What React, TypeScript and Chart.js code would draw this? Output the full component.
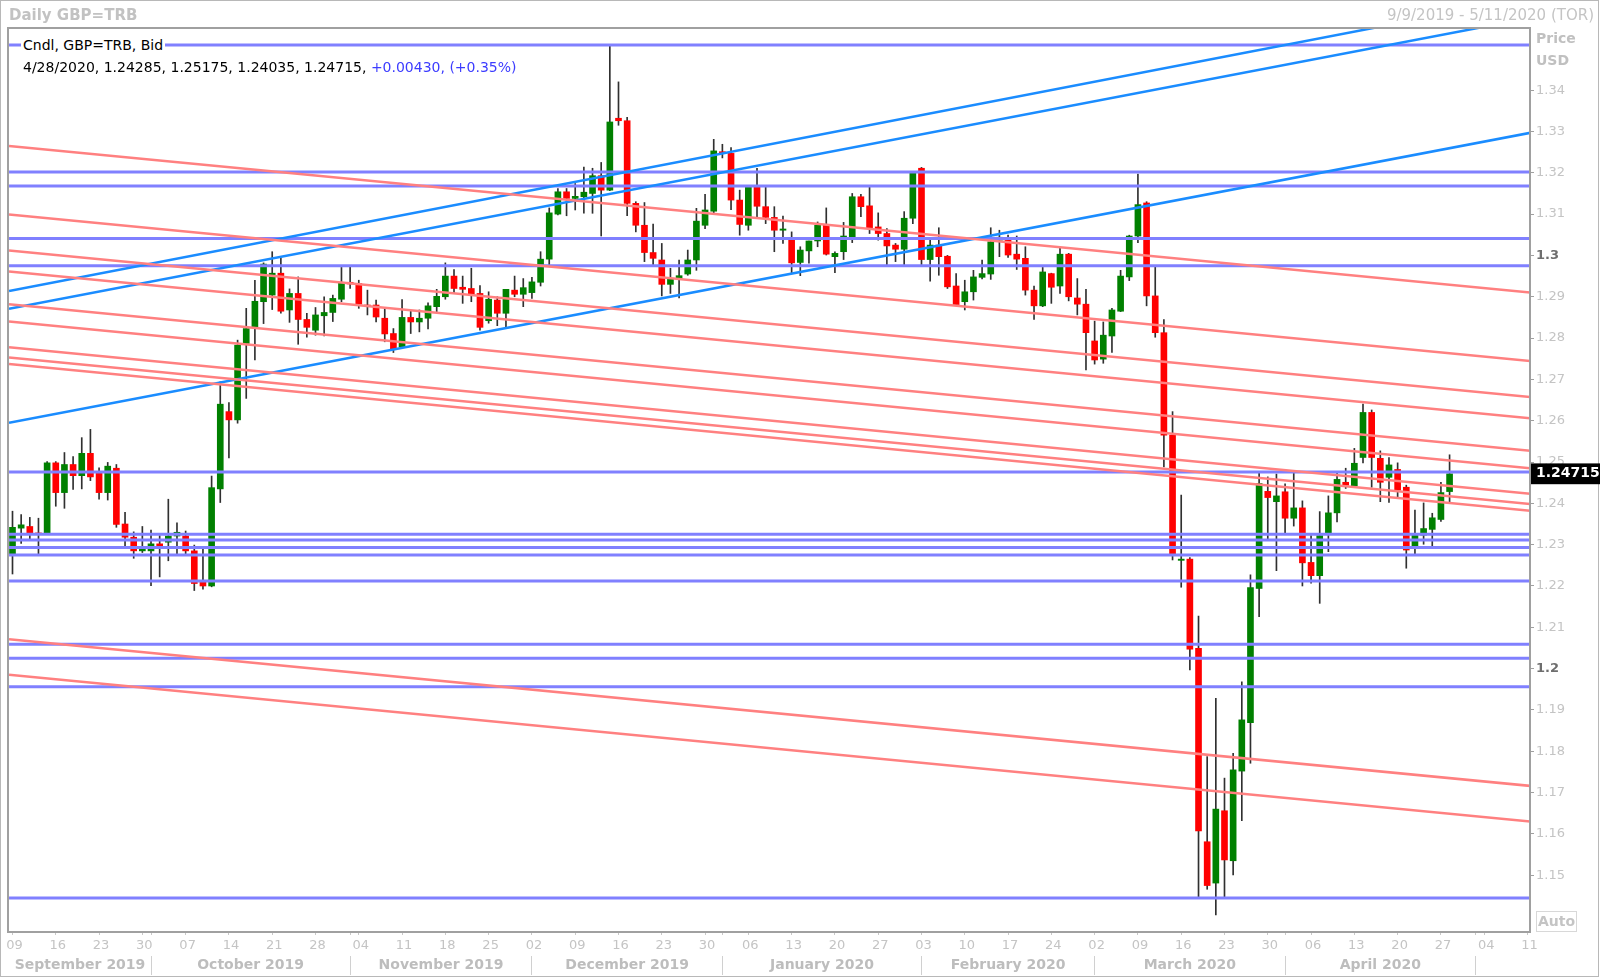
import React, { useEffect, useRef } from "react";
import { Chart, registerables } from "chart.js";

Chart.register(...registerables);

// ---- Daily candles GBP=TRB, trading-day index 0 = Mon 9 Sep 2019 ----
const OPEN = [
  1.2277, 1.2340, 1.2344, 1.2328, 1.2328, 1.2498, 1.2426, 1.2494, 1.2467, 1.2521,
  1.2473, 1.2426, 1.2485, 1.2350, 1.2318, 1.2285, 1.2285, 1.2302, 1.2306, 1.2321,
  1.2321, 1.2285, 1.2209, 1.2200, 1.2435, 1.2622, 1.2602, 1.2787, 1.2827, 1.2888,
  1.2904, 1.2957, 1.2868, 1.2908, 1.2845, 1.2819, 1.2854, 1.2862, 1.2894, 1.2935,
  1.2932, 1.2880, 1.2880, 1.2848, 1.2811, 1.2779, 1.2850, 1.2839, 1.2848, 1.2876,
  1.2900, 1.2950, 1.2923, 1.2920, 1.2908, 1.2842, 1.2892, 1.2860, 1.2916, 1.2906,
  1.2910, 1.2935, 1.2991, 1.3100, 1.3154, 1.3138, 1.3142, 1.3150, 1.3193, 1.3158,
  1.3332, 1.3326, 1.3126, 1.3073, 1.3007, 1.2989, 1.2930, 1.2944, 1.2955, 1.2989,
  1.3073, 1.3107, 1.3251, 1.3247, 1.3134, 1.3073, 1.3166, 1.3118, 1.3092, 1.3061,
  1.3039, 1.2983, 1.3011, 1.3035, 1.3073, 1.2997, 1.3009, 1.3045, 1.3142, 1.3120,
  1.3069, 1.3053, 1.3025, 1.3015, 1.3090, 1.3211, 1.2990, 1.3025, 1.2998, 1.2926,
  1.2888, 1.2912, 1.2947, 1.2955, 1.3037, 1.3039, 1.3003, 1.2993, 1.2916, 1.2878,
  1.2956, 1.2926, 1.3003, 1.2897, 1.2882, 1.2793, 1.2749, 1.2805, 1.2865, 1.2948,
  1.3047, 1.3127, 1.2902, 1.2813, 1.2565, 1.2262, 1.2265, 1.2049, 1.1581, 1.1481,
  1.1656, 1.1535, 1.1752, 1.1869, 1.2194, 1.2429, 1.2404, 1.2428, 1.2364, 1.2389,
  1.2257, 1.2225, 1.2327, 1.2377, 1.2451, 1.2442, 1.2511, 1.2620, 1.2509, 1.2463,
  1.2482, 1.2439, 1.2297, 1.2323, 1.2337, 1.2361, 1.24285,
];
const HIGH = [
  1.2381, 1.2373, 1.2366, 1.2364, 1.2501, 1.2501, 1.2523, 1.2513, 1.2559, 1.2579,
  1.2486, 1.2499, 1.2494, 1.2378, 1.2331, 1.2344, 1.2335, 1.2322, 1.2410, 1.2353,
  1.2333, 1.2299, 1.2291, 1.2466, 1.2694, 1.2644, 1.2795, 1.2872, 1.2940, 1.2982,
  1.3009, 1.2993, 1.2919, 1.2948, 1.2860, 1.2874, 1.2900, 1.2904, 1.2971, 1.2971,
  1.2940, 1.2916, 1.2892, 1.2872, 1.2823, 1.2893, 1.2865, 1.2868, 1.2885, 1.2918,
  1.2982, 1.2966, 1.2950, 1.2969, 1.2927, 1.2912, 1.2900, 1.2918, 1.2950, 1.2944,
  1.2947, 1.3009, 1.3115, 1.3162, 1.3162, 1.3174, 1.3214, 1.3211, 1.3225, 1.3506,
  1.3420, 1.3334, 1.3130, 1.3128, 1.3076, 1.3029, 1.2969, 1.2989, 1.3013, 1.3114,
  1.3148, 1.3281, 1.3269, 1.3261, 1.3158, 1.3166, 1.3211, 1.3166, 1.3118, 1.3095,
  1.3057, 1.3021, 1.3035, 1.3081, 1.3115, 1.3009, 1.3080, 1.3150, 1.3148, 1.3166,
  1.3103, 1.3065, 1.3029, 1.3106, 1.3202, 1.3213, 1.3037, 1.3067, 1.3000, 1.2956,
  1.2940, 1.2964, 1.2989, 1.3067, 1.3061, 1.3049, 1.3047, 1.3021, 1.2926, 1.2971,
  1.2957, 1.3017, 1.3005, 1.2944, 1.2918, 1.2841, 1.2839, 1.2872, 1.2964, 1.3049,
  1.3197, 1.3130, 1.2972, 1.2845, 1.2622, 1.2420, 1.2269, 1.2127, 1.1787, 1.1928,
  1.1735, 1.1795, 1.1968, 1.2227, 1.2473, 1.2464, 1.2471, 1.2447, 1.2474, 1.2406,
  1.2322, 1.2380, 1.2418, 1.2473, 1.2485, 1.2533, 1.2640, 1.2626, 1.2527, 1.2511,
  1.2498, 1.2444, 1.2384, 1.2401, 1.2376, 1.2451, 1.25175,
];
const LOW = [
  1.2229, 1.2303, 1.2314, 1.2275, 1.2326, 1.2393, 1.2388, 1.2434, 1.2435, 1.2455,
  1.2410, 1.2408, 1.2342, 1.2297, 1.2267, 1.2281, 1.2201, 1.2222, 1.2261, 1.2277,
  1.2275, 1.2189, 1.2192, 1.2198, 1.2402, 1.2510, 1.2594, 1.2654, 1.2747, 1.2835,
  1.2869, 1.2860, 1.2838, 1.2785, 1.2802, 1.2807, 1.2805, 1.2840, 1.2888, 1.2920,
  1.2872, 1.2856, 1.2839, 1.2791, 1.2765, 1.2777, 1.2811, 1.2815, 1.2822, 1.2864,
  1.2894, 1.2908, 1.2884, 1.2888, 1.2819, 1.2836, 1.2830, 1.2827, 1.2900, 1.2876,
  1.2896, 1.2926, 1.2977, 1.3098, 1.3096, 1.3110, 1.3102, 1.3102, 1.3047, 1.3157,
  1.3315, 1.3096, 1.3057, 1.2985, 1.2977, 1.2902, 1.2908, 1.2897, 1.2952, 1.2964,
  1.3065, 1.3103, 1.3236, 1.3111, 1.3049, 1.3061, 1.3094, 1.3077, 1.3009, 1.3029,
  1.2957, 1.2951, 1.2981, 1.3021, 1.3001, 1.2958, 1.2990, 1.3031, 1.3094, 1.3053,
  1.3037, 1.2977, 1.2985, 1.2977, 1.3077, 1.2977, 1.2938, 1.2952, 1.2920, 1.2880,
  1.2868, 1.2892, 1.2943, 1.2942, 1.2997, 1.2995, 1.2966, 1.2904, 1.2845, 1.2876,
  1.2884, 1.2908, 1.2890, 1.2856, 1.2723, 1.2737, 1.2739, 1.2765, 1.2864, 1.2939,
  1.3031, 1.2878, 1.2802, 1.2488, 1.2263, 1.2197, 1.1997, 1.1448, 1.1466, 1.1404,
  1.1448, 1.1501, 1.1632, 1.1771, 1.2126, 1.2314, 1.2237, 1.2327, 1.2345, 1.2200,
  1.2207, 1.2158, 1.2283, 1.2355, 1.2436, 1.2440, 1.2498, 1.2439, 1.2404, 1.2402,
  1.2416, 1.2243, 1.2277, 1.2301, 1.2295, 1.2356, 1.24035,
];
const CLOSE = [
  1.2342, 1.2348, 1.2328, 1.2326, 1.2498, 1.2426, 1.2494, 1.2467, 1.2521, 1.2464,
  1.2426, 1.2490, 1.2349, 1.2318, 1.2285, 1.2291, 1.2302, 1.2295, 1.2321, 1.2330,
  1.2285, 1.2206, 1.2200, 1.2438, 1.2640, 1.2602, 1.2783, 1.2823, 1.2889, 1.2979,
  1.2957, 1.2865, 1.2908, 1.2845, 1.2826, 1.2856, 1.2862, 1.2896, 1.2935, 1.2931,
  1.2882, 1.2876, 1.2851, 1.2810, 1.2773, 1.2850, 1.2839, 1.2848, 1.2878, 1.2901,
  1.2950, 1.2920, 1.2918, 1.2904, 1.2826, 1.2894, 1.2860, 1.2918, 1.2906, 1.2922,
  1.2936, 1.2991, 1.3103, 1.3154, 1.3138, 1.3143, 1.3153, 1.3193, 1.3158, 1.3323,
  1.3326, 1.3126, 1.3073, 1.3007, 1.2993, 1.2930, 1.2944, 1.2951, 1.2989, 1.3083,
  1.3110, 1.3253, 1.3247, 1.3134, 1.3075, 1.3166, 1.3119, 1.3092, 1.3061, 1.3064,
  1.2982, 1.3013, 1.3035, 1.3073, 1.3003, 1.3005, 1.3047, 1.3142, 1.3118, 1.3067,
  1.3053, 1.3023, 1.3015, 1.3090, 1.3200, 1.2990, 1.3025, 1.2997, 1.2924, 1.2881,
  1.2912, 1.2948, 1.2956, 1.3033, 1.3044, 1.3001, 1.2991, 1.2916, 1.2878, 1.2960,
  1.2923, 1.3003, 1.2900, 1.2882, 1.2813, 1.2747, 1.2807, 1.2868, 1.2950, 1.3047,
  1.3123, 1.2902, 1.2813, 1.2565, 1.2275, 1.2265, 1.2047, 1.1607, 1.1475, 1.1660,
  1.1537, 1.1755, 1.1876, 1.2196, 1.2448, 1.2414, 1.2418, 1.2364, 1.2389, 1.2256,
  1.2225, 1.2322, 1.2377, 1.2458, 1.2444, 1.2497, 1.2620, 1.2511, 1.2451, 1.2493,
  1.2432, 1.2287, 1.2323, 1.2339, 1.2365, 1.2426, 1.24715,
];

const LAST_PRICE = 1.24715;

// axis ranges (trading-day index, price)
const X_MIN = -0.404;
const X_MAX = 175.29;
const Y_MIN = 1.1365;
const Y_MAX = 1.3548;

const Y_TICKS = [
  1.15, 1.16, 1.17, 1.18, 1.19, 1.2, 1.21, 1.22, 1.23, 1.24,
  1.25, 1.26, 1.27, 1.28, 1.29, 1.3, 1.31, 1.32, 1.33, 1.34,
];
const BOLD_TICKS = [1.2, 1.3];

const DAY_TICK_INDEX = [
  0, 5, 10, 15, 20, 25, 30, 35, 40, 45, 50, 55, 60, 65, 70, 75, 80, 85,
  90, 95, 100, 105, 110, 115, 120, 125, 130, 135, 140, 145, 150, 155, 160, 165, 170, 175,
];
const DAY_LABELS = [
  "09", "16", "23", "30", "07", "14", "21", "28", "04", "11", "18", "25",
  "02", "09", "16", "23", "30", "06", "13", "20", "27", "03", "10", "17",
  "24", "02", "09", "16", "23", "30", "06", "13", "20", "27", "04", "11",
];
const MONTH_START_INDEX = [16, 39, 60, 82, 105, 125, 147, 169];
const MONTH_LABEL_INDEX = [7.8, 27.5, 49.5, 71, 93.5, 115, 136, 158];
const MONTH_LABELS = [
  "September 2019", "October 2019", "November 2019", "December 2019",
  "January 2020", "February 2020", "March 2020", "April 2020",
];

// drawn study lines
const H_LEVELS = [
  1.3509, 1.3202, 1.3168, 1.3041, 1.2975, 1.2476, 1.2325, 1.2311,
  1.2293, 1.2275, 1.2212, 1.2059, 1.2025, 1.1956, 1.1445,
];
const LINE_X0 = -0.4;
const LINE_X1 = 175.4;
const RED_START = [1.3265, 1.3099, 1.3012, 1.2961, 1.2882, 1.2840, 1.2778, 1.2753, 1.2737, 1.2071, 1.1985];
const RED_END = [1.2910, 1.2744, 1.2657, 1.2606, 1.2527, 1.2485, 1.2423, 1.2398, 1.2382, 1.1716, 1.1630];
const BLUE_START = [1.2914, 1.2871, 1.2595];
const BLUE_END = [1.3624, 1.3575, 1.3297];

const FONT = "'DejaVu Sans', Verdana, sans-serif";
const UP = "#008000";
const DOWN = "#ff0000";

const isVal = (a: number, b: number) => Math.abs(a - b) < 1e-9;

const framePlugin = {
  id: "frame",
  beforeDraw(chart: any) {
    const c = chart.ctx;
    c.save();
    c.fillStyle = "#ffffff";
    c.fillRect(0, 0, chart.width, chart.height);
    c.strokeStyle = "#b8b8b8";
    c.lineWidth = 1;
    c.strokeRect(0.5, 0.5, chart.width - 2, chart.height - 3);
    c.restore();
  },
  afterDatasetsDraw(chart: any) {
    const { left, top, right, bottom } = chart.chartArea;
    const c = chart.ctx;
    c.save();
    c.strokeStyle = "#a0a0a0";
    c.lineWidth = 2;
    c.strokeRect(left - 1, top - 1, right - left + 1, bottom - top + 2);
    c.restore();
  },
};

export default function App() {
  const ref = useRef<HTMLCanvasElement | null>(null);

  useEffect(() => {
    if (!ref.current) return;
    const idx = OPEN.map((_, i) => i);
    const wicks = idx.map((i) => ({ x: i, y: [LOW[i], HIGH[i]] }));
    const bodies = idx.map((i) => ({ x: i, y: [OPEN[i], CLOSE[i]] }));
    const bodyColors = idx.map((i) => (CLOSE[i] >= OPEN[i] ? UP : DOWN));

    const lineDs = (a: number, b: number, color: string, w: number) => ({
      type: "line",
      data: [
        { x: LINE_X0, y: a },
        { x: LINE_X1, y: b },
      ],
      borderColor: color,
      borderWidth: w,
      pointRadius: 0,
      fill: false,
      order: 1,
    });

    const datasets: any[] = [
      {
        type: "bar",
        data: wicks,
        backgroundColor: "#303030",
        barThickness: 1,
        grouped: false,
        order: 5,
      },
      {
        type: "bar",
        data: bodies,
        backgroundColor: bodyColors,
        barThickness: 6,
        minBarLength: 1,
        grouped: false,
        order: 4,
      },
      ...RED_START.map((s, k) => lineDs(s, RED_END[k], "#ff8080", 2.5)),
      ...BLUE_START.map((s, k) => lineDs(s, BLUE_END[k], "#1a8cff", 2.5)),
      ...H_LEVELS.map((v) => lineDs(v, v, "#8080ff", 3)),
    ];

    const dayTicks = Array.from(new Set([...DAY_TICK_INDEX, ...MONTH_START_INDEX])).sort((a, b) => a - b);
    const monthTicks = [...MONTH_START_INDEX, ...MONTH_LABEL_INDEX].sort((a, b) => a - b);

    const chart = new Chart(ref.current, {
      type: "bar",
      data: { datasets },
      plugins: [framePlugin],
      options: {
        animation: false,
        responsive: false,
        devicePixelRatio: 1,
        events: [],
        layout: { padding: { top: 0, left: 9, right: 0, bottom: 3 } },
        plugins: {
          legend: { display: false },
          tooltip: { enabled: false },
          title: {
            display: true,
            text: "Daily GBP=TRB",
            align: "start",
            color: "#c2c2c2",
            font: { family: FONT, size: 15, weight: "bold", lineHeight: 1.2 },
            padding: { top: 7, bottom: 4 },
          },
        },
        scales: {
          x: {
            type: "linear",
            position: "bottom",
            min: X_MIN,
            max: X_MAX,
            offset: false,
            weight: 0,
            afterBuildTicks: (s: any) => {
              s.ticks = dayTicks.map((v) => ({ value: v }));
            },
            afterFit: (s: any) => {
              s.height = 25;
            },
            ticks: {
              autoSkip: false,
              maxRotation: 0,
              minRotation: 0,
              padding: 3,
              labelOffset: 2,
              color: "#c4c4c4",
              font: { family: FONT, size: 13 },
              callback: (v: any) => {
                const k = DAY_TICK_INDEX.indexOf(v);
                return k >= 0 ? DAY_LABELS[k] : "";
              },
            },
            grid: {
              offset: false,
              drawOnChartArea: false,
              drawTicks: true,
              tickLength: 4,
              tickColor: "#c8c8c8",
              color: "rgba(0,0,0,0)",
            },
            border: { display: false },
          },
          x2: {
            type: "linear",
            position: "bottom",
            min: X_MIN,
            max: X_MAX,
            offset: false,
            weight: 1,
            afterBuildTicks: (s: any) => {
              s.ticks = monthTicks.map((v) => ({ value: v }));
            },
            afterFit: (s: any) => {
              s.height = 20;
            },
            ticks: {
              autoSkip: false,
              maxRotation: 0,
              minRotation: 0,
              padding: -18,
              color: "#bdbdbd",
              font: { family: FONT, size: 14, weight: "bold" },
              callback: (v: any) => {
                const k = MONTH_LABEL_INDEX.indexOf(v);
                return k >= 0 ? MONTH_LABELS[k] : "";
              },
            },
            grid: {
              offset: false,
              drawOnChartArea: false,
              drawTicks: true,
              tickLength: 19,
              lineWidth: 1,
              tickColor: (ctx: any) =>
                ctx.tick && MONTH_START_INDEX.includes(ctx.tick.value) ? "#d0d0d0" : "rgba(0,0,0,0)",
              color: "rgba(0,0,0,0)",
            },
            border: { display: false },
          },
          y: {
            type: "linear",
            position: "right",
            min: Y_MIN,
            max: Y_MAX,
            z: 1,
            afterBuildTicks: (s: any) => {
              s.ticks = [...Y_TICKS.map((v) => ({ value: v })), { value: LAST_PRICE }];
            },
            afterFit: (s: any) => {
              s.width = 70;
            },
            ticks: {
              autoSkip: false,
              padding: 2,
              callback: (v: any) => {
                if (isVal(v, LAST_PRICE)) return "1.24715";
                if (BOLD_TICKS.some((b) => isVal(b, v))) return v.toFixed(1);
                return v.toFixed(2);
              },
              color: (ctx: any) => {
                const v = ctx.tick ? ctx.tick.value : 0;
                if (isVal(v, LAST_PRICE)) return "#ffffff";
                if (BOLD_TICKS.some((b) => isVal(b, v))) return "#6e6e6e";
                return "#c4c4c4";
              },
              font: (ctx: any) => {
                const v = ctx.tick ? ctx.tick.value : 0;
                if (isVal(v, LAST_PRICE)) return { family: FONT, size: 14, weight: "bold" };
                if (BOLD_TICKS.some((b) => isVal(b, v))) return { family: FONT, size: 13, weight: "bold" };
                return { family: FONT, size: 13 };
              },
              showLabelBackdrop: (ctx: any) => !!ctx.tick && isVal(ctx.tick.value, LAST_PRICE),
              backdropColor: "#000000",
              backdropPadding: { left: 6, right: 4, top: 2, bottom: 2 },
            },
            grid: {
              drawOnChartArea: false,
              drawTicks: true,
              tickLength: 4,
              tickColor: (ctx: any) =>
                ctx.tick && isVal(ctx.tick.value, LAST_PRICE) ? "rgba(0,0,0,0)" : "#a0a0a0",
              color: "rgba(0,0,0,0)",
            },
            border: { display: false },
          },
        },
      } as any,
    });
    return () => chart.destroy();
  }, []);

  const txt: React.CSSProperties = {
    position: "absolute",
    fontFamily: FONT,
    whiteSpace: "nowrap",
    pointerEvents: "none",
  };

  return (
    <div
      style={{
        position: "fixed",
        left: 0,
        top: 0,
        width: 1600,
        height: 979,
        background: "#ffffff",
        overflow: "hidden",
      }}
    >
      <canvas ref={ref} width={1600} height={979} style={{ display: "block", width: 1600, height: 979 }} />
      <div style={{ ...txt, right: 6, top: 6, fontSize: 15, lineHeight: "18px", color: "#c4c4c4" }}>
        9/9/2019 - 5/11/2020 (TOR)
      </div>
      <div style={{ ...txt, left: 21, top: 36, fontSize: 14, lineHeight: "18px", color: "#000", background: "#fff", padding: "0 2px" }}>
        Cndl, GBP=TRB, Bid
      </div>
      <div style={{ ...txt, left: 23, top: 58, fontSize: 14, lineHeight: "18px", color: "#000" }}>
        4/28/2020, 1.24285, 1.25175, 1.24035, 1.24715,{" "}
        <span style={{ color: "#3c3cff" }}>+0.00430, (+0.35%)</span>
      </div>
      <div style={{ ...txt, left: 1536, top: 29, fontSize: 14, lineHeight: "18px", fontWeight: "bold", color: "#c0c0c0" }}>
        Price
      </div>
      <div style={{ ...txt, left: 1536, top: 51, fontSize: 14, lineHeight: "18px", fontWeight: "bold", color: "#c0c0c0" }}>
        USD
      </div>
      <div
        style={{
          ...txt,
          left: 1536,
          top: 911,
          width: 39,
          height: 19,
          border: "1px solid #d8d8d8",
          fontSize: 14,
          lineHeight: "19px",
          fontWeight: "bold",
          color: "#c4c4c4",
          textAlign: "center",
        }}
      >
        Auto
      </div>
    </div>
  );
}
